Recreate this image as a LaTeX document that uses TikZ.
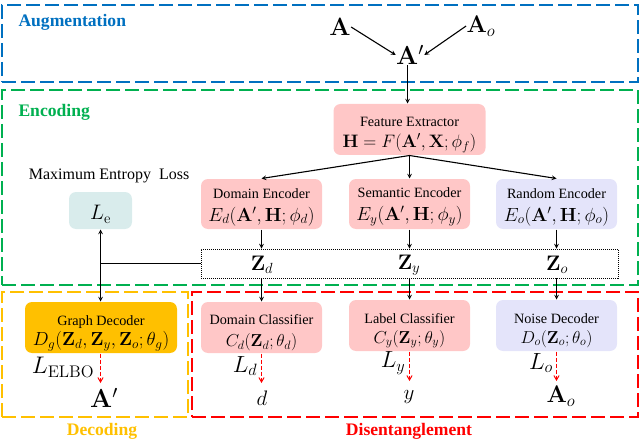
\documentclass[tikz,border=0pt]{standalone}
\usepackage{fix-cm}
\usepackage{amsmath, amssymb}
\usepackage[no-math]{fontspec}
\setmainfont{Liberation Serif}
\usepackage{tikz}
\usetikzlibrary{
	positioning,
	calc,
	arrows
}
\definecolor{bluec}{HTML}{0070C0}
\definecolor{greenc}{HTML}{00B050}
\definecolor{orangec}{HTML}{FFC000}
\definecolor{redc}{HTML}{FF0000}
\definecolor{pinkc}{HTML}{FFC7C7}
\definecolor{lilacc}{HTML}{E4E4FA}
\definecolor{tealc}{HTML}{D9ECEC}
\tikzset{
	every picture/.style={
		x=1pt,
		y=-1pt,
		line width=1pt,
	},
}
\tikzstyle{region} = [
	draw,
	rectangle,
	inner sep=0pt,
	line width=1.5pt,
	dash pattern=on 14pt off 5pt,
]
\tikzstyle{blockbox} = [
	rectangle,
	rounded corners=7pt,
	inner sep=0pt,
	align=center,
	font=\fontsize{14.2}{16}\selectfont,
	minimum width=121pt,
	minimum height=50pt,
]
\tikzstyle{heading} = [font=\fontsize{17.6}{20}\selectfont\bfseries, inner sep=0pt]
\tikzstyle{sym} = [font=\fontsize{21}{22}\selectfont, inner sep=0pt]
\tikzstyle{flow} = [-stealth, line width=1.1pt]
\tikzstyle{loss} = [-angle 60, red, dash pattern=on 4pt off 2pt, line width=1pt]
\newcommand{\mfs}[1]{\fontsize{#1}{20}\selectfont}
\newcommand{\lift}[1]{\rule{0pt}{#1pt}}
\begin{document}
\begin{tikzpicture}
\path[use as bounding box] (0, 0) rectangle (640, 441);

% dashed regions
\node[region, bluec, minimum width=636pt, minimum height=77pt] (aug) at (320, 43.5) {};
\node[region, greenc, minimum width=636pt, minimum height=195pt] (enc) at (320, 187.5) {};
\node[region, orangec, minimum width=186pt, minimum height=125pt] (dec) at (95, 354.5) {};
\node[region, redc, minimum width=446pt, minimum height=125pt] (dis) at (415, 354.5) {};

\node[heading, text=bluec, anchor=west] (augt) at (18, 22) {Augmentation};
\node[heading, text=greenc, anchor=west] (enct) at (18, 112) {Encoding};
\node[heading, text=orangec] (dect) at (102, 431) {Decoding};
\node[heading, text=redc] (dist) at (409, 431) {Disentanglement};

% inputs
\node[sym, font=\mfs{25}] (a) at (340, 27) {$\mathbf{A}$};
\node[sym, font=\mfs{24}] (ao) at (481, 26) {$\mathbf{A}_o$};
\node[sym, font=\mfs{26}] (ap) at (410, 55) {$\mathbf{A}'$};

% encoders
\node[blockbox, fill=pinkc, minimum width=152pt, minimum height=51pt] (fe) at (409.5, 129.5) {\lift{20}Feature Extractor\\[5pt]{\mfs{18}$\mathbf{H}=F(\mathbf{A}',\mathbf{X};\phi_f)$}};
\node[blockbox, fill=pinkc] (de) at (261.5, 204) {\lift{16}Domain Encoder\\[7pt]{\mfs{19}$E_d(\mathbf{A}',\mathbf{H};\phi_d)$}};
\node[blockbox, fill=pinkc] (se) at (409.5, 204) {\lift{16}Semantic Encoder\\[7pt]{\mfs{19}$E_y(\mathbf{A}',\mathbf{H};\phi_y)$}};
\node[blockbox, fill=lilacc] (re) at (556.5, 204) {\lift{16}Random Encoder\\[7pt]{\mfs{19}$E_o(\mathbf{A}',\mathbf{H};\phi_o)$}};

\node[inner sep=0pt, font=\mfs{16}] (met) at (109, 176) {Maximum Entropy\ \ Loss};
\node[blockbox, fill=tealc, minimum width=63pt, minimum height=37pt] (le) at (100.5, 210.5) {{\mfs{21}\lift{22}$L_{\mathrm{e}}$}};

% latent codes
\node[draw, dash pattern=on 1pt off 1pt, line width=.9pt, rectangle, inner sep=0pt, minimum width=417pt, minimum height=29pt] (z) at (409.5, 263.5) {};
\node[sym] (zd) at (262, 265) {$\mathbf{Z}_d$};
\node[sym] (zy) at (409, 265) {$\mathbf{Z}_y$};
\node[sym] (zo) at (557, 265) {$\mathbf{Z}_o$};

% decoders
\node[blockbox, fill=orangec, minimum width=152pt, minimum height=51pt] (gd) at (101, 327.5) {\lift{22}Graph Decoder\\[2pt]{\mfs{18.9}$D_g(\mathbf{Z}_d,\mathbf{Z}_y,\mathbf{Z}_o;\theta_g)$}};
\node[blockbox, fill=pinkc, minimum height=51pt] (dc) at (261.5, 327.5) {\lift{21}Domain Classifier\\[6pt]{\mfs{17.3}$C_d(\mathbf{Z}_d;\theta_d)$}};
\node[blockbox, fill=pinkc, minimum height=51pt] (lc) at (409.5, 325.5) {\lift{20}Label Classifier\\[4pt]{\mfs{17.3}$C_y(\mathbf{Z}_y;\theta_y)$}};
\node[blockbox, fill=lilacc, minimum height=51pt] (nd) at (556.5, 325.5) {\lift{20}Noise Decoder\\[4pt]{\mfs{17.3}$D_o(\mathbf{Z}_o;\theta_o)$}};

% outputs
\node[sym, font=\mfs{26}] (apo) at (104, 398) {$\mathbf{A}'$};
\node[sym] (d) at (262, 398) {$d$};
\node[sym] (y) at (409, 397) {$y$};
\node[sym, font=\mfs{24}] (aoo) at (561, 396) {$\mathbf{A}_o$};

\node[sym, font=\mfs{24}] (lelbo) at (63, 367) {$L_{\mathrm{ELBO}}$};
\node[sym, font=\mfs{23.4}] (ld) at (245, 366) {$L_d$};
\node[sym, font=\mfs{23.4}] (ly) at (393, 363) {$L_y$};
\node[sym, font=\mfs{23.4}] (lo) at (541, 363) {$L_o$};

% connectors
\coordinate (gt) at (100.5, 263.5);
\coordinate (dgo) at (100.5, 383);
\coordinate (dco) at (261.5, 383);
\coordinate (lco) at (409.5, 381);
\coordinate (ndo) at (556.5, 381);

\draw[flow] (a.east) -- (ap.west);
\draw[flow] (ao.west) -- (ap.east);
\draw[flow] ([xshift=-2.5pt]ap.south) -- ([xshift=-2.5pt]ap.south |- fe.north);
\draw[flow] (fe.south) -- (de.north);
\draw[flow] (fe.south) -- (fe.south |- se.north);
\draw[flow] (fe.south) -- (re.north);
\draw[flow] (de.south) -- (de.south |- z.north);
\draw[flow] (se.south) -- (se.south |- z.north);
\draw[flow] (re.south) -- (re.south |- z.north);
\draw[flow] (dc.north |- z.south) -- (dc.north);
\draw[flow] (lc.north |- z.south) -- (lc.north);
\draw[flow] (nd.north |- z.south) -- (nd.north);
\draw[line width=1.1pt] (z.west |- gt) -- (gt);
\draw[stealth-stealth, line width=1.1pt] (le.south) -- (le.south |- gd.north);

\draw[loss] (dgo |- gd.south) -- (dgo);
\draw[loss] (dc.south) -- (dco);
\draw[loss] (lc.south) -- (lco);
\draw[loss] (nd.south) -- (ndo);
\end{tikzpicture}
\end{document}
